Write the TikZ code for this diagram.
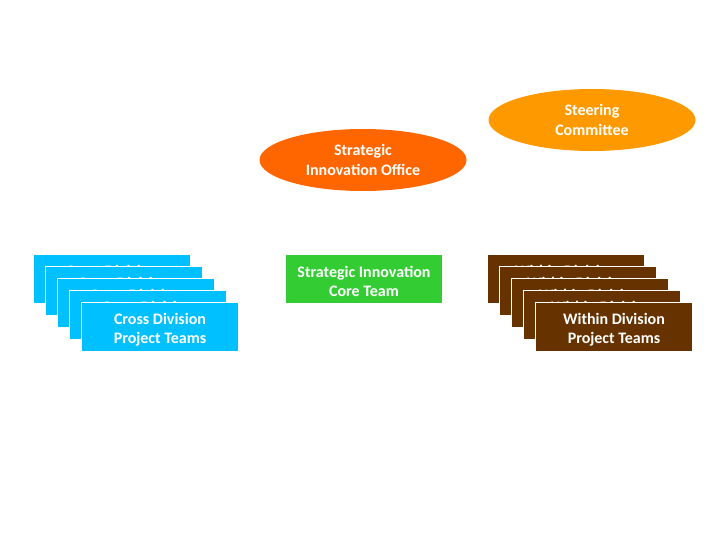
\documentclass[tikz,border=0pt]{standalone}
\usepackage{fontspec}
\setmainfont{Carlito}
\usetikzlibrary{shapes.geometric,positioning}

\definecolor{crossblue}{RGB}{0,192,255}
\definecolor{coregreen}{RGB}{51,204,51}
\definecolor{withinbrown}{RGB}{102,51,0}
\definecolor{officeorange}{RGB}{255,102,0}
\definecolor{steerorange}{RGB}{255,153,0}

\newcommand{\toppad}{\rule{0pt}{16.5pt}}

\tikzset{
  teambox/.style={draw=white, line width=1pt, minimum width=157pt, minimum height=49pt,
    inner sep=0pt, anchor=north west, text=white, align=center,
    font=\bfseries\fontsize{16}{19}\selectfont},
  bodyblob/.style={ellipse, minimum width=207pt, minimum height=62pt, inner sep=0pt,
    text=white, align=center, font=\bfseries\fontsize{16}{20}\selectfont}
}

\begin{document}
\begin{tikzpicture}[x=1pt, y=-1pt]
  \useasboundingbox[fill=white] (0,0) rectangle (728,546);
  % bodies on top
  \node[bodyblob, fill=steerorange] (steer) at (592,120) {Steering\\Committee};
  \node[bodyblob, fill=officeorange] (office) at (363,160) {Strategic\\Innovation Office};
  % core team
  \node[teambox, fill=coregreen] (core) at (285,254) {\toppad Strategic Innovation\\Core Team};
  % cross division stack
  \foreach \k in {0,...,4}
    \node[teambox, fill=crossblue] (cross\k) at (33+12*\k,254+12*\k) {\toppad Cross Division\\Project Teams};
  % within division stack
  \foreach \k in {0,...,4}
    \node[teambox, fill=withinbrown] (within\k) at (487+12*\k,254+12*\k) {\toppad Within Division\\Project Teams};
\end{tikzpicture}
\end{document}
